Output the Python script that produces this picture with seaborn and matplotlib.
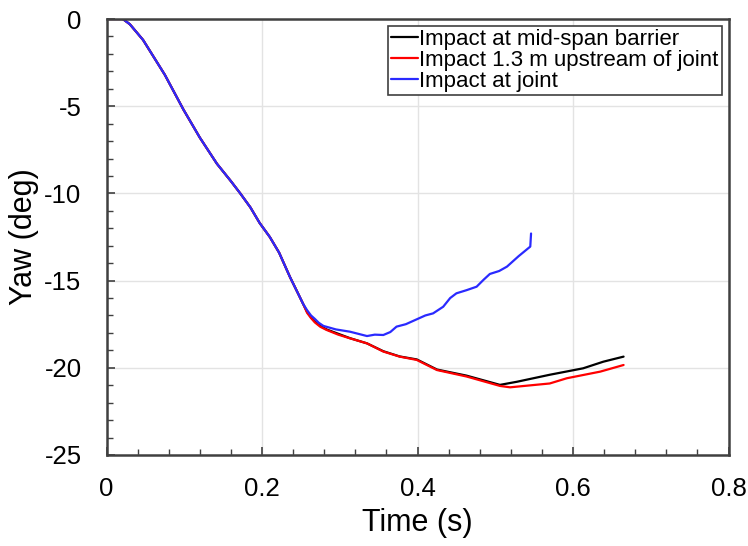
import numpy as np
import pandas as pd
import matplotlib
matplotlib.use("Agg")
import matplotlib.pyplot as plt
import seaborn as sns
from matplotlib.ticker import MultipleLocator, FuncFormatter

sns.set_style("white")
plt.rcParams['font.family'] = ['Liberation Sans', 'DejaVu Sans']
plt.rcParams['axes.unicode_minus'] = False
plt.rcParams['text.color'] = 'black'
plt.rcParams['axes.labelcolor'] = 'black'
plt.rcParams['xtick.color'] = 'black'
plt.rcParams['ytick.color'] = 'black'

labels = ["Impact at mid-span barrier", "Impact 1.3 m upstream of joint", "Impact at joint"]
colors = ["#000000", "#ff0000", "#2a2aff"]

t_common = [0, 0.021, 0.03, 0.047, 0.075, 0.099, 0.12, 0.142, 0.16, 0.172, 0.185, 0.197,
            0.21, 0.222, 0.236, 0.247, 0.253]
y_common = [0, 0, -0.3, -1.2, -3.2, -5.2, -6.8, -8.3, -9.3, -10.0, -10.8, -11.7,
            -12.5, -13.4, -14.8, -15.8, -16.35]

t_black = [0.258, 0.263, 0.268, 0.275, 0.283, 0.298, 0.313, 0.335, 0.356, 0.377, 0.399, 0.425,
           0.463, 0.506, 0.528, 0.57, 0.613, 0.639, 0.665]
y_black = [-16.8, -17.1, -17.35, -17.6, -17.8, -18.05, -18.3, -18.6, -19.05, -19.35, -19.52, -20.1,
           -20.45, -20.98, -20.8, -20.4, -20.03, -19.65, -19.36]

t_red = [0.258, 0.263, 0.268, 0.275, 0.283, 0.298, 0.313, 0.335, 0.356, 0.377, 0.399, 0.425,
         0.463, 0.506, 0.519, 0.549, 0.57, 0.592, 0.635, 0.665]
y_red = [-16.85, -17.15, -17.4, -17.65, -17.83, -18.1, -18.31, -18.6, -19.07, -19.36, -19.55, -20.13,
         -20.5, -21.04, -21.12, -20.99, -20.9, -20.6, -20.22, -19.84]

t_blue = [0.258, 0.263, 0.268, 0.273, 0.279, 0.295, 0.313, 0.335, 0.345, 0.356, 0.365, 0.373, 0.385,
          0.399, 0.41, 0.42, 0.433, 0.442, 0.45, 0.463, 0.476, 0.485, 0.493, 0.505, 0.515, 0.53,
          0.545, 0.546]
y_blue = [-16.7, -17.0, -17.2, -17.42, -17.6, -17.8, -17.93, -18.18, -18.1, -18.12, -17.95, -17.64,
          -17.5, -17.22, -17.0, -16.88, -16.5, -16.0, -15.73, -15.55, -15.35, -14.95, -14.62, -14.45,
          -14.2, -13.6, -13.05, -12.3]

series_t = [t_common + t_black, t_common + t_red, t_common + t_blue]
series_y = [y_common + y_black, y_common + y_red, y_common + y_blue]

fig = plt.figure(figsize=(7.48, 5.46), dpi=100)
ax = fig.add_axes([0.1424, 0.1667, 0.8316, 0.7985])

for lab, col, tx, ty in zip(labels, colors, series_t, series_y):
    df = pd.DataFrame({"Time": tx, "Yaw": ty})
    sns.lineplot(data=df, x="Time", y="Yaw", ax=ax, color=col, lw=1.6, sort=False,
                 label=lab, estimator=None)

ax.set_xlim(0, 0.8)
ax.set_ylim(-25, 0)
ax.xaxis.set_major_locator(MultipleLocator(0.2))
ax.xaxis.set_minor_locator(MultipleLocator(0.04))
ax.yaxis.set_major_locator(MultipleLocator(5))
ax.yaxis.set_minor_locator(MultipleLocator(1))
ax.xaxis.set_major_formatter(FuncFormatter(lambda v, p: "0" if abs(v) < 1e-9 else f"{v:g}"))
ax.grid(True, which="major", color="#e3e3e3", lw=1.0)
ax.tick_params(which="both", direction="in", bottom=True, left=True, top=False, right=False,
               color="#404040", labelsize=18.5)
ax.tick_params(axis="x", which="major", pad=16)
ax.tick_params(axis="y", which="major", pad=18)
ax.tick_params(which="major", length=6, width=1.2)
ax.tick_params(which="minor", length=4, width=1.0)
for s in ax.spines.values():
    s.set_color("#404040")
    s.set_linewidth(1.8)
ax.set_xlabel("Time (s)", fontsize=22, labelpad=5)
ax.set_ylabel("Yaw (deg)", fontsize=22, labelpad=4)

leg = ax.legend(loc="upper right", fontsize=16, frameon=True, fancybox=False,
                edgecolor="#404040", framealpha=1, handlelength=1.2, handletextpad=0.05,
                borderpad=0.15, labelspacing=0.0, borderaxespad=0.3)
leg.get_frame().set_linewidth(1.2)

fig.savefig("out.png", dpi=100)
